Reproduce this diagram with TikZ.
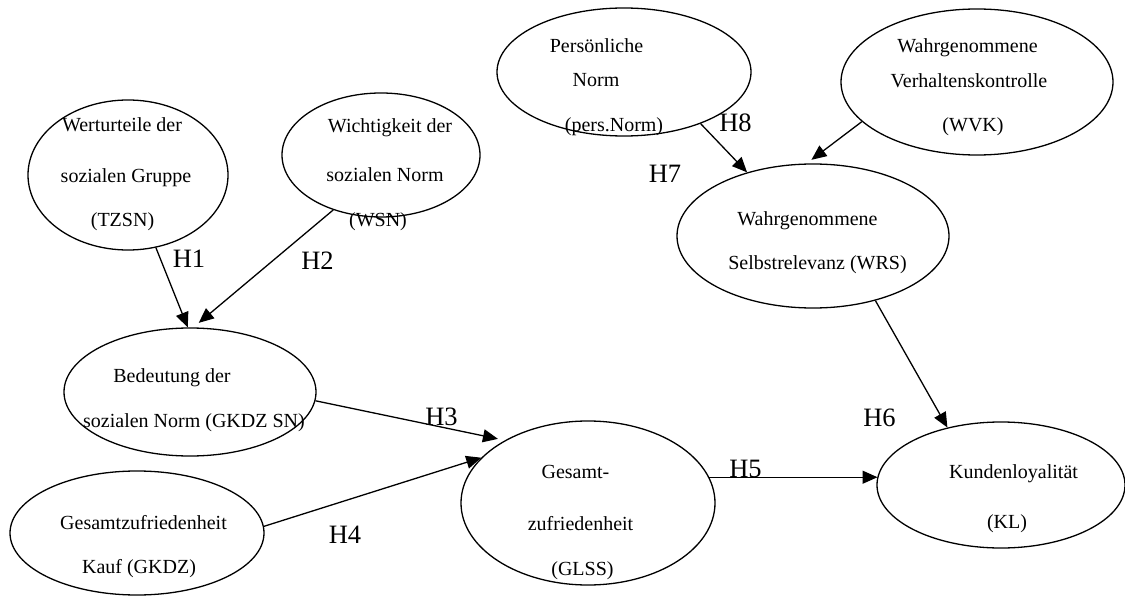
\documentclass[tikz,border=0pt]{standalone}
\usepackage{fontspec}
\setmainfont{Liberation Serif}
\usetikzlibrary{shapes.geometric,arrows.meta}
\begin{document}
\begin{tikzpicture}[x=1pt,y=-1pt,
  construct/.style={draw=black,line width=1.3pt,ellipse,inner sep=0pt},
  txt/.style={inner sep=0pt,anchor=base,font=\fontsize{20}{22}\selectfont},
  hyp/.style={inner sep=0pt,anchor=base,font=\fontsize{26.5}{28}\selectfont},
  arr/.style={draw=black,line width=1.3pt,-{Triangle[length=15pt,width=13pt]}}]
\useasboundingbox (0,0) rectangle (1125,596);

% constructs
\node[construct,minimum width=200pt,minimum height=150pt] (tzsn) at (128,175) {};
\node[construct,minimum width=198pt,minimum height=124pt] (wsn)  at (381,155) {};
\node[construct,minimum width=252pt,minimum height=128pt] (gkdzsn) at (190,392) {};
\node[construct,minimum width=254pt,minimum height=124pt] (gkdz) at (137,533) {};
\node[construct,minimum width=254pt,minimum height=164pt] (glss) at (588,503) {};
\node[construct,minimum width=248pt,minimum height=126pt] (kl)   at (1001,485) {};
\node[construct,minimum width=254pt,minimum height=128pt] (pn)   at (624,72) {};
\node[construct,minimum width=272pt,minimum height=146pt] (wvk)  at (977,82) {};
\node[construct,minimum width=272pt,minimum height=144pt] (wrs)  at (813,236) {};

% construct labels
\node[txt] (tzsn1) at (122,132) {Werturteile der};
\node[txt] (tzsn2) at (126,183) {sozialen Gruppe};
\node[txt] (tzsn3) at (122.5,227) {(TZSN)};
\node[txt] (wsn1) at (390,133) {Wichtigkeit der};
\node[txt] (wsn2) at (385,182) {sozialen Norm};
\node[txt] (wsn3) at (378,227) {(WSN)};
\node[txt] (gkdzsn1) at (172,382) {Bedeutung der};
\node[txt] (gkdzsn2) at (194,427) {sozialen Norm (GKDZ SN)};
\node[txt] (gkdz1) at (143.5,529) {Gesamtzufriedenheit};
\node[txt] (gkdz2) at (139,573) {Kauf (GKDZ)};
\node[txt] (glss1) at (575.5,478) {Gesamt-};
\node[txt] (glss2) at (580.5,530) {zufriedenheit};
\node[txt] (glss3) at (582.5,575) {(GLSS)};
\node[txt] (kl1) at (1013.5,478) {Kundenloyalität};
\node[txt] (kl2) at (1007,528) {(KL)};
\node[txt] (pn1) at (596.5,53) {Persönliche};
\node[txt] (pn2) at (596,87) {Norm};
\node[txt] (pn3) at (614,132) {(pers.Norm)};
\node[txt] (wvk1) at (967.5,53) {Wahrgenommene};
\node[txt] (wvk2) at (969,88) {Verhaltenskontrolle};
\node[txt] (wvk3) at (973,132) {(WVK)};
\node[txt] (wrs1) at (807.5,226) {Wahrgenommene};
\node[txt] (wrs2) at (817.5,270) {Selbstrelevanz (WRS)};

% paths
\draw[arr] (tzsn.-69.7) -- (gkdzsn.92);
\draw[arr,shorten >=7pt] (wsn.229.8) -- (gkdzsn.87.6);
\draw[arr,shorten >=7pt] (gkdzsn.-4) -- (glss.143.6);
\draw[arr] (gkdz.3.6) -- (glss.157.8);
\draw[arr] (glss.12) -- (glss.12 -| kl.176);
\draw[arr] (wrs.-46.7) -- (kl.133.5);
\draw[arr] (pn.-34.9) -- (wrs.136);
\draw[arr,shorten >=6pt] (wvk.199.6) -- (wrs.95.1);

% hypotheses
\node[hyp] (h1) at (189,268) {H1};
\node[hyp] (h2) at (317.5,270) {H2};
\node[hyp] (h3) at (441.5,425) {H3};
\node[hyp] (h4) at (345,543) {H4};
\node[hyp] (h5) at (745.5,477) {H5};
\node[hyp] (h6) at (879.5,426) {H6};
\node[hyp] (h7) at (665,183) {H7};
\node[hyp] (h8) at (735.5,132) {H8};
\end{tikzpicture}
\end{document}
